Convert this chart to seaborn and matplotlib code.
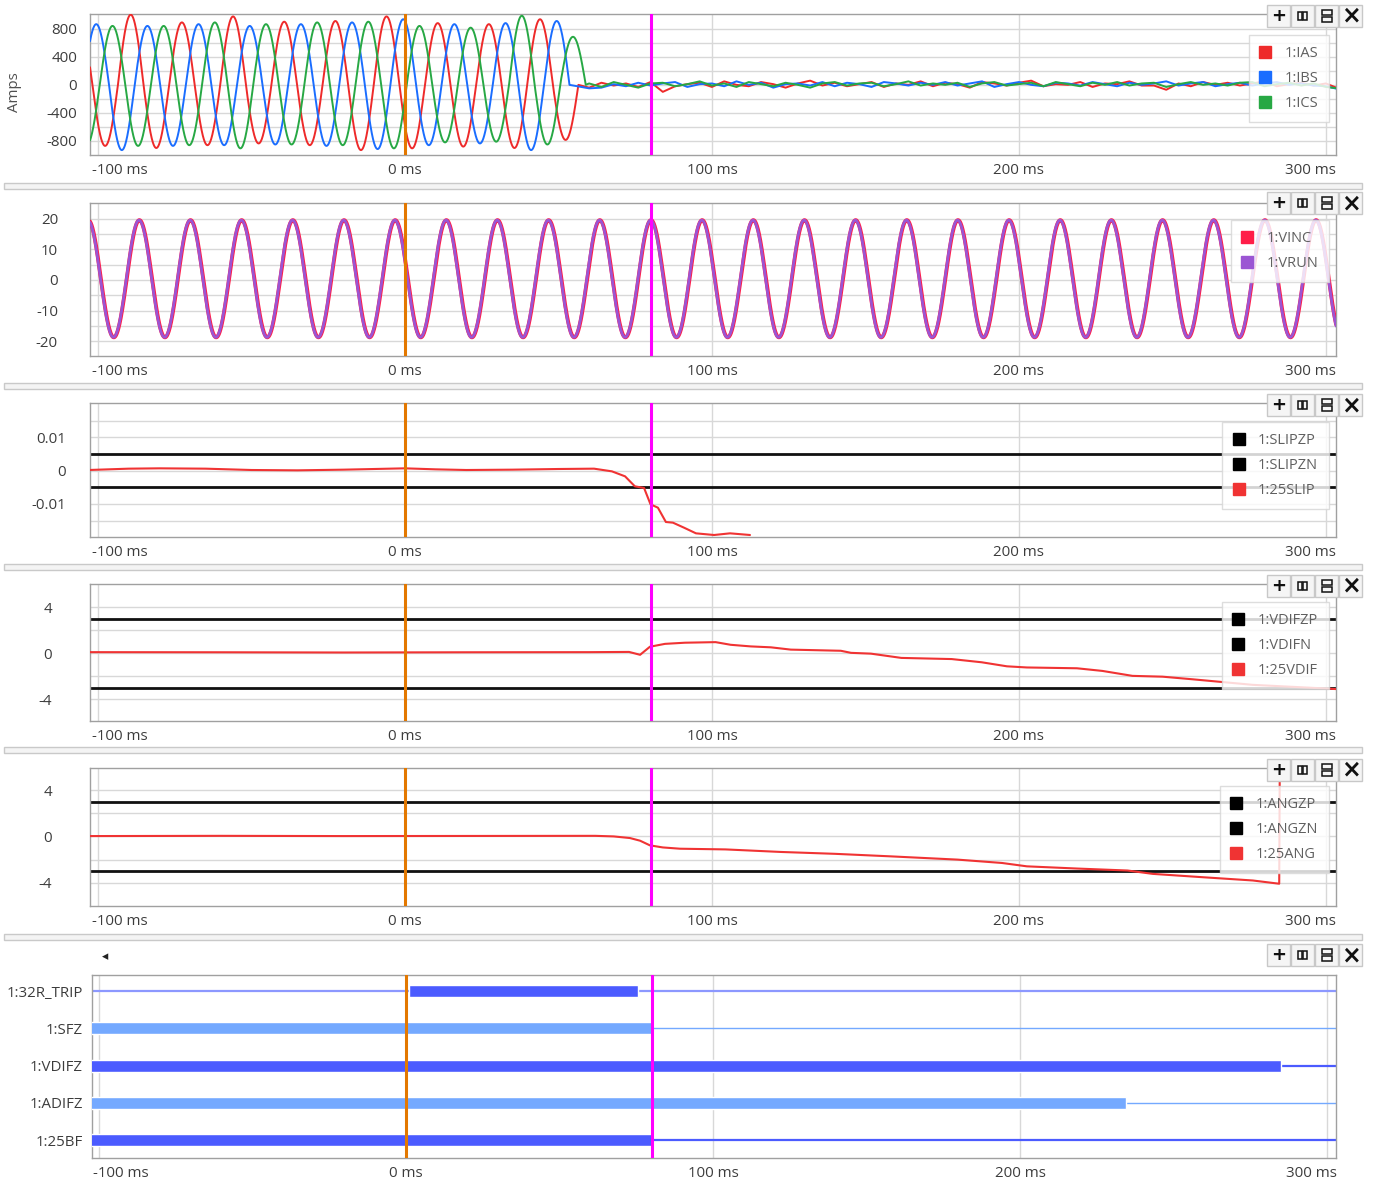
import numpy as np
import pandas as pd
import matplotlib
matplotlib.use("Agg")
import matplotlib.pyplot as plt
from matplotlib.lines import Line2D
from matplotlib.patches import Rectangle
from matplotlib.transforms import ScaledTranslation
import seaborn as sns

W, H = 1376, 1186

# ---- time axis (ms) ----
x_ticks = [-100, 0, 100, 200, 300]
x_tick_text = ["-100 ms", "0 ms", "100 ms", "200 ms", "300 ms"]
t_trigger = 0
t_cursor = 80
half_cycle_ms = 1000 / 60 / 2

# ---- panel 1: phase currents (Amps) ----
# time of first half-cycle peak, its sign, magnitude of each half-cycle peak, opening time
ias_first_ms, ias_first_sign = -106.0, 1
ias_peaks = [880, 870, 1000, 900, 890, 860, 975, 835, 900, 860,
             910, 930, 975, 905, 880, 880, 865, 900, 935, 785]
ias_open_ms = 56.5
ibs_first_ms, ibs_first_sign = -108.9, -1
ibs_peaks = [870, 865, 930, 840, 870, 865, 860, 840, 850, 865,
             870, 890, 915, 935, 860, 865, 835, 880, 930, 910]
ibs_open_ms = 53.6
ics_first_ms, ics_first_sign = -103.6, -1
ics_peaks = [850, 840, 870, 840, 860, 890, 905, 865, 850, 890,
             860, 900, 905, 840, 820, 815, 810, 985, 850, 685]
ics_open_ms = 58.9

# residual current after the breaker opened, every 4 ms from 60 ms
resid_ms = list(range(60, 305, 4))
ias_resid = [-40, 30, -10, 20, -30, 40, -100, -20, 10, 30,
             -30, 50, 0, -20, 40, 10, -40, 20, 60, -10,
             30, -20, 10, 40, -30, 20, 0, 50, -20, 30,
             10, -40, 40, 20, -10, 30, 60, -20, 10, 0,
             40, -30, 20, 10, 50, -10, -10, -70, 20, -20,
             40, 0, 30, -10, 20, 50, -20, 10, 30, -10,
             20, -50]
ibs_resid = [-50, -40, 10, -20, 30, -10, 20, 40, -30, 10,
             20, -20, 50, 0, 30, -40, 10, 20, -10, 40,
             -20, 30, 10, -30, 40, 20, -10, 30, 0, 40,
             -10, 20, 50, -30, 10, 40, 0, -20, 30, 20,
             -10, 40, 10, -20, 30, 0, 20, 50, -10, 20,
             40, -20, 10, 30, -10, 20, 40, 0, 20, -10,
             -20, -60]
ics_resid = [20, -30, 40, 0, -40, 20, 30, -20, 10, 50,
             -10, 20, -30, 40, 10, -20, 30, 0, -40, 20,
             40, -10, 20, 30, -20, 10, 50, -10, 20, 0,
             30, -30, 20, 40, -10, 10, 30, -20, 40, 10,
             -20, 30, 0, 40, -10, 20, 30, -30, 10, 40,
             0, 20, -10, 30, 40, -20, 10, 30, -10, 20,
             -30, -50]

# ---- panel 2: incoming / running voltage ----
vrun_first_ms = -103.3
vrun_top, vrun_bottom = 19.5, 18.7
vinc_shift_ms = 0.12

# ---- panel 3: slip ----
slip_zp, slip_zn = 0.005, -0.005
slip_ms = [-103, -90, -80, -65, -50, -35, -20, -5, 0, 10, 20, 35, 50, 61.6,
           67.4, 71.7, 74.9, 77.9, 80.0, 82.4, 85.0, 87.3, 90.9, 94.8, 100.7,
           105.9, 112.4]
slip_val = [0.0002, 0.0006, 0.0007, 0.0006, 0.0002, 0.0001, 0.0003, 0.0006,
            0.0007, 0.0004, 0.0002, 0.0003, 0.0005, 0.0006, -0.0002, -0.0017,
            -0.0047, -0.0052, -0.0101, -0.0111, -0.0154, -0.0156, -0.0171,
            -0.0188, -0.0193, -0.0188, -0.0193]

# ---- panel 4: voltage difference ----
vdif_zp, vdif_zn = 3.0, -3.0
vdif_ms = [-103, -60, -20, 20, 60, 73, 76.6, 79.8, 84.7, 91.2, 101.2, 106.1,
           112.6, 119.2, 125.7, 142, 145.3, 151.8, 161.7, 178.1, 187.9, 196.1,
           202.6, 218.9, 227.2, 237, 246.8, 256.7, 268.1, 276.2, 292.7, 305]
vdif_val = [0.08, 0.07, 0.05, 0.07, 0.08, 0.1, -0.15, 0.55, 0.8, 0.9, 0.95,
            0.72, 0.58, 0.5, 0.3, 0.2, 0.02, -0.05, -0.42, -0.52, -0.8, -1.15,
            -1.25, -1.32, -1.55, -1.98, -2.05, -2.28, -2.56, -2.76, -2.98, -3.15]

# ---- panel 5: angle difference ----
ang_zp, ang_zn = 3.0, -3.0
ang_ms = [-103, -60, -20, 20, 62, 68, 73.3, 76.6, 79.8, 84, 89.6, 104.4,
          122.5, 140, 158.3, 180, 194.5, 202.6, 219, 235.4, 243.6, 260, 276.2,
          284.8, 285.0]
ang_val = [0.03, 0.05, 0.03, 0.04, 0.05, 0.0, -0.14, -0.37, -0.77, -0.95,
           -1.06, -1.12, -1.34, -1.5, -1.72, -2.0, -2.29, -2.58, -2.77, -2.94,
           -3.23, -3.52, -3.8, -4.08, 7.0]

# ---- panel 6: digital channels ----
dig_names = ["1:32R_TRIP", "1:SFZ", "1:VDIFZ", "1:ADIFZ", "1:25BF"]
dig_on_start = [1.0, -103, -103, -103, -103]
dig_on_end = [75.4, 80.0, 285.0, 234.5, 80.0]
dig_dark = [True, False, True, False, True]

# ---- colours ----
c_ias, c_ibs, c_ics = "#ee2a2a", "#1a6dff", "#27a844"
c_vinc, c_vrun = "#ff1d48", "#9b55d3"
c_red = "#f03333"
c_orange, c_magenta = "#e37800", "#ff00ff"
c_grid, c_spine, c_label = "#d8d8d8", "#a0a0a0", "#3c3c3c"
c_dark_bar, c_light_bar, c_trip_thin = "#4b5bff", "#74a9ff", "#8c98ff"

TICK_FS = 10.8

sns.set_theme(style="white")
plt.rcParams["font.family"] = ["Open Sans", "DejaVu Sans"]

fig = plt.figure(figsize=(W / 100, H / 100), dpi=100)
fig.patch.set_facecolor("white")


def panel(l, t, r, b):
    return fig.add_axes([l / W, 1 - b / H, (r - l) / W, (b - t) / H])


def px_shift(dx):
    return ScaledTranslation(dx / 100, 0, fig.dpi_scale_trans)


def dress(ax, xlim, ylim, yticks, ytext, ygrid, ypad_px):
    ax.set_xlim(*xlim)
    ax.set_ylim(*ylim)
    for g in ygrid:
        ax.axhline(g, color=c_grid, lw=1.0, zorder=0.5)
    for v in [-100, 100, 200, 300]:
        ax.axvline(v, color=c_grid, lw=1.0, zorder=0.5)
    ax.set_xticks(x_ticks, x_tick_text)
    ax.set_yticks(yticks, ytext)
    ax.tick_params(axis="both", length=0, labelsize=TICK_FS, labelcolor=c_label)
    ax.tick_params(axis="x", pad=6)
    ax.tick_params(axis="y", pad=ypad_px * 0.72)
    labs = ax.get_xticklabels()
    labs[0].set_horizontalalignment("left")
    labs[0].set_transform(labs[0].get_transform() + px_shift(-6))
    labs[-1].set_horizontalalignment("right")
    labs[-1].set_transform(labs[-1].get_transform() + px_shift(10))
    for s in ax.spines.values():
        s.set_color(c_spine)
        s.set_linewidth(1.0)
    ax.axvline(t_trigger, color=c_orange, lw=2.2, zorder=6)
    ax.axvline(t_cursor, color=c_magenta, lw=2.2, zorder=6)
    ax.set_xlabel("")
    ax.set_ylabel("")


def legend(ax, names, colors, x_px, y_px):
    handles = [Line2D([], [], ls="none", marker="s", ms=8, mfc=c, mec=c) for c in colors]
    leg = ax.legend(handles, names, loc="upper right",
                    bbox_to_anchor=(x_px / W, 1 - y_px / H), bbox_transform=fig.transFigure,
                    borderaxespad=0, frameon=True, fancybox=False, framealpha=0.82,
                    edgecolor="#d6d6d6", fontsize=10.5, labelcolor="#606060",
                    handlelength=0.75, handletextpad=0.95, labelspacing=0.7, borderpad=0.75)
    leg.get_frame().set_linewidth(1.0)
    leg.set_zorder(20)


def phase_wave(first_ms, sign, peaks, open_ms, resid):
    t = np.arange(-103.5, open_ms, 0.05)
    k = np.clip(np.rint((t - first_ms) / half_cycle_ms).astype(int), 0, len(peaks) - 1)
    v = sign * np.asarray(peaks, float)[k] * np.cos(np.pi * (t - first_ms) / half_cycle_ms)
    t = np.concatenate([t, [open_ms], resid_ms])
    v = np.concatenate([v, [0.0], resid])
    return pd.DataFrame({"ms": t, "amps": v})


XL = (-102.6, 303.3)

# ---------- panel 1 ----------
ax1 = panel(90, 14, 1336, 155)
for first, sign, peaks, op, res, col in [
        (ias_first_ms, ias_first_sign, ias_peaks, ias_open_ms, ias_resid, c_ias),
        (ibs_first_ms, ibs_first_sign, ibs_peaks, ibs_open_ms, ibs_resid, c_ibs),
        (ics_first_ms, ics_first_sign, ics_peaks, ics_open_ms, ics_resid, c_ics)]:
    df = phase_wave(first, sign, peaks, op, res)
    sns.lineplot(data=df, x="ms", y="amps", ax=ax1, color=col, lw=1.4,
                 estimator=None, sort=False, zorder=3)
dress(ax1, XL, (-1000, 1010), [-800, -400, 0, 400, 800],
      ["-800", "-400", "0", "400", "800"], list(range(-800, 801, 200)), 13)
fig.text(15 / W, 1 - 92 / H, "Amps", rotation=90, ha="center", va="center",
         fontsize=TICK_FS, color="#505050")
legend(ax1, ["1:IAS", "1:IBS", "1:ICS"], [c_ias, c_ibs, c_ics], 1329, 35)

# ---------- panel 2 ----------
ax2 = panel(90, 203, 1336, 356)
t2 = np.arange(-103.5, 304, 0.05)
for shift, col, lw in [(vinc_shift_ms, c_vinc, 2.8), (0.0, c_vrun, 2.0)]:
    ph = np.cos(np.pi * (t2 - vrun_first_ms - shift) / half_cycle_ms)
    v = np.where(ph > 0, vrun_top, vrun_bottom) * ph
    sns.lineplot(x=t2, y=v, ax=ax2, color=col, lw=lw, estimator=None, sort=False, zorder=3)
dress(ax2, XL, (-24.8, 25.1), [-20, -10, 0, 10, 20],
      ["-20", "-10", "0", "10", "20"], list(range(-20, 21, 5)), 32)
legend(ax2, ["1:VINC", "1:VRUN"], [c_vinc, c_vrun], 1329, 220)

# ---------- panel 3 ----------
ax3 = panel(90, 403, 1336, 537)
ax3.axhline(slip_zp, color="#111111", lw=2.0, zorder=2)
ax3.axhline(slip_zn, color="#111111", lw=2.0, zorder=2)
sns.lineplot(x=slip_ms, y=slip_val, ax=ax3, color=c_red, lw=1.5,
             estimator=None, sort=False, zorder=3)
dress(ax3, XL, (-0.0199, 0.0203), [-0.01, 0, 0.01], ["-0.01", "0", "0.01"],
      [-0.015, -0.01, -0.005, 0, 0.005, 0.01, 0.015], 24)
legend(ax3, ["1:SLIPZP", "1:SLIPZN", "1:25SLIP"], ["#000000", "#000000", c_red], 1329, 422)

# ---------- panel 4 ----------
ax4 = panel(90, 584, 1336, 721)
ax4.axhline(vdif_zp, color="#111111", lw=2.0, zorder=2)
ax4.axhline(vdif_zn, color="#111111", lw=2.0, zorder=2)
sns.lineplot(x=vdif_ms, y=vdif_val, ax=ax4, color=c_red, lw=1.5,
             estimator=None, sort=False, zorder=3)
dress(ax4, XL, (-5.9, 6.0), [-4, 0, 4], ["-4", "0", "4"], [-4, -2, 0, 2, 4], 38)
legend(ax4, ["1:VDIFZP", "1:VDIFN", "1:25VDIF"], ["#000000", "#000000", c_red], 1329, 602)

# ---------- panel 5 ----------
ax5 = panel(90, 768, 1336, 906)
ax5.axhline(ang_zp, color="#111111", lw=2.0, zorder=2)
ax5.axhline(ang_zn, color="#111111", lw=2.0, zorder=2)
sns.lineplot(x=ang_ms, y=ang_val, ax=ax5, color=c_red, lw=1.5,
             estimator=None, sort=False, zorder=3)
dress(ax5, XL, (-6.0, 5.9), [-4, 0, 4], ["-4", "0", "4"], [-4, -2, 0, 2, 4], 38)
legend(ax5, ["1:ANGZP", "1:ANGZN", "1:25ANG"], ["#000000", "#000000", c_red], 1329, 786)

# ---------- panel 6 (digital) ----------
ax6 = panel(92, 975, 1336, 1158)
rows = np.arange(len(dig_names))
for r, s, e, dark in zip(rows, dig_on_start, dig_on_end, dig_dark):
    col = c_dark_bar if dark else c_light_bar
    thin_col = c_trip_thin if r == 0 else col
    ax6.hlines(r, -103, 304, color=thin_col, lw=1.6 if dark else 1.0, zorder=2)
    ax6.barh(r, e - s, left=s, height=0.32, color=col, zorder=3)
dress(ax6, (-102.3, 302.9), (4.48, -0.43), rows, dig_names, [], 9)
ax6.grid(False)
fig.text(105 / W, 1 - 957 / H, "\u25c2", ha="center", va="center", fontsize=9,
         color="#222222", family="DejaVu Sans")

# ---------- splitters between panels ----------
for y in [183, 383, 564, 747, 934]:
    fig.add_artist(Rectangle((4 / W, 1 - (y + 6) / H), 1358 / W, 6 / H,
                             transform=fig.transFigure, fc="#f4f4f4", ec="#c9c9c9", lw=1.0))

# ---------- panel tool buttons ----------
for cy in [16, 203, 405, 586, 770, 955]:
    for i, x0 in enumerate([1267, 1291, 1315, 1339]):
        fig.add_artist(Rectangle((x0 / W, 1 - (cy + 11) / H), 23 / W, 22 / H,
                                 transform=fig.transFigure, fc="#f5f5f5", ec="#c8c8c8",
                                 lw=1.0, zorder=30))
        cx = x0 + 11.5
        if i == 0:
            fig.text(cx / W, 1 - cy / H, "+", ha="center", va="center", fontsize=13,
                     fontweight="bold", color="#111111", family="DejaVu Sans", zorder=31)
        elif i == 1:
            for dx in (-4.5, 0.5):
                fig.add_artist(Rectangle(((cx + dx) / W, 1 - (cy + 4) / H), 4 / W, 8 / H,
                                         transform=fig.transFigure, fc="none",
                                         ec="#111111", lw=1.1, zorder=31))
        elif i == 2:
            for dy in (-6, 1):
                fig.add_artist(Rectangle(((cx - 5) / W, 1 - (cy + dy + 5) / H), 10 / W, 5 / H,
                                         transform=fig.transFigure, fc="none",
                                         ec="#111111", lw=1.1, zorder=31))
        else:
            fig.text(cx / W, 1 - cy / H, "\u00d7", ha="center", va="center", fontsize=17,
                     fontweight="bold", color="#111111", family="DejaVu Sans", zorder=31)

fig.savefig("out.png", dpi=100, facecolor="white")
